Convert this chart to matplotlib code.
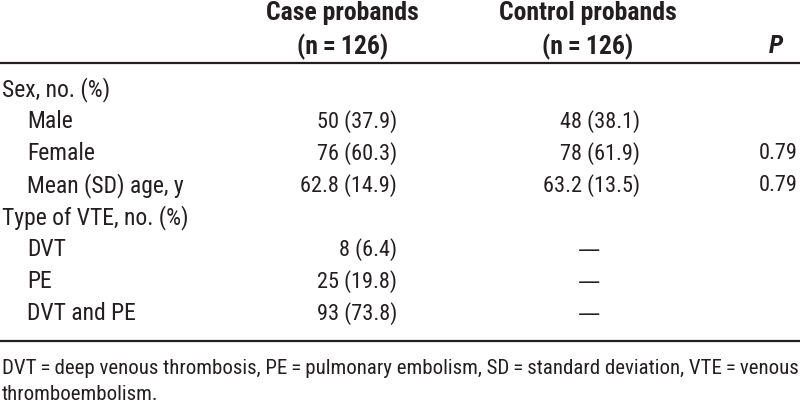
import matplotlib
matplotlib.use("Agg")
import matplotlib.pyplot as plt

# Table content
row_labels = ["Sex, no. (%)", "Male", "Female", "Mean (SD) age, y",
              "Type of VTE, no. (%)", "DVT", "PE", "DVT and PE"]
row_indent = [0, 1, 1, 1, 0, 1, 1, 1]
case_vals = ["", "50 (37.9)", "76 (60.3)", "62.8 (14.9)", "", "8 (6.4)", "25 (19.8)", "93 (73.8)"]
control_vals = ["", "48 (38.1)", "78 (61.9)", "63.2 (13.5)", "", "\u2014", "\u2014", "\u2014"]
p_vals = ["", "", "0.79", "0.79", "", "", "", ""]
header_case = ["Case probands", "(n\u2009=\u2009126)"]
header_control = ["Control probands", "(n\u2009=\u2009126)"]
footnote = ["DVT\u2009=\u2009deep venous thrombosis, PE\u2009=\u2009pulmonary embolism, "
            "SD\u2009=\u2009standard deviation, VTE\u2009=\u2009venous",
            "thromboembolism."]

W, H = 800, 406
FONT = ["Roboto Condensed", "DejaVu Sans"]
INK = "#231f20"

fig = plt.figure(figsize=(W / 100, H / 100), dpi=100)
fig.patch.set_facecolor("white")


def put(x, y, s, ha="left", **kw):
    # x, y in pixels from top-left
    kw.setdefault("fontsize", 17)
    kw.setdefault("color", INK)
    kw.setdefault("family", FONT)
    fig.text(x / W, 1 - y / H, s, ha=ha, va="center", **kw)


def hline(y, lw=1.6):
    fig.add_artist(plt.Line2D([0, 1], [1 - y / H, 1 - y / H], color=INK, lw=lw,
                              transform=fig.transFigure))


# header (centred over columns)
bold = dict(fontweight="bold", fontsize=18.5)
put(342, 13, header_case[0], ha="center", **bold)
put(343, 47, header_case[1], ha="center", **bold)
put(588, 13, header_control[0], ha="center", **bold)
put(588, 47, header_control[1], ha="center", **bold)
put(783, 46, "P", ha="right", style="italic", **bold)
hline(64)

row_y0, row_dy = 90, 32.0
for i, lab in enumerate(row_labels):
    y = row_y0 + i * row_dy
    put(2 + 25 * row_indent[i], y, lab)
    if case_vals[i]:
        put(397, y, case_vals[i], ha="right", fontsize=16)
    if control_vals[i] == "\u2014":
        put(589, y, control_vals[i], ha="center", family="DejaVu Sans", fontsize=16)
    elif control_vals[i]:
        put(640, y, control_vals[i], ha="right", fontsize=16)
    if p_vals[i]:
        put(798, y, p_vals[i], ha="right", fontsize=16)

hline(342)
put(2, 369, footnote[0], fontsize=15)
put(2, 395, footnote[1], fontsize=15)

fig.savefig("out.png", dpi=100)
